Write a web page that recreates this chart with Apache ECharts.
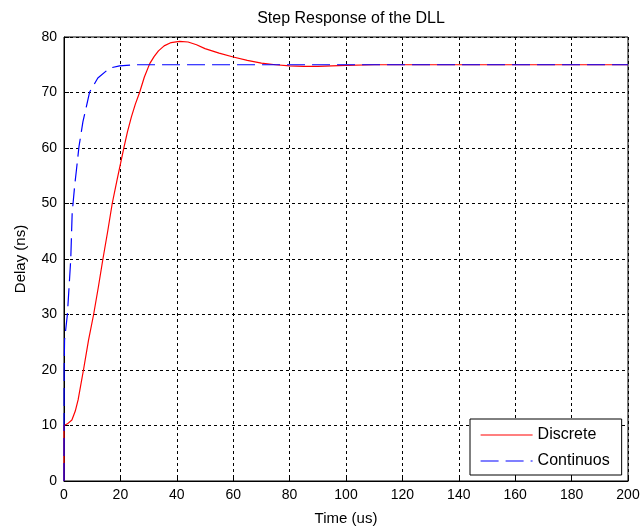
<!DOCTYPE html>
<html>
<head>
<meta charset="utf-8">
<script src="https://cdn.jsdelivr.net/npm/echarts@6/dist/echarts.min.js"></script>
<style>
  html, body { margin: 0; padding: 0; background: #ffffff; }
  #chart { width: 643px; height: 532px; }
</style>
</head>
<body>
<div id="chart"></div>
<script>
// Step response of the DLL: delay (ns) versus time (us)
var xTicks = [0, 20, 40, 60, 80, 100, 120, 140, 160, 180, 200];
var yTicks = [0, 10, 20, 30, 40, 50, 60, 70, 80];

// Discrete loop response [time, delay]
var discrete = [
  [0, 0], [0, 10], [1.2, 10.3], [2.8, 11], [4, 12.6], [5, 14.6], [6.9, 20],
  [8.7, 25.4], [10.5, 30], [12.2, 35], [13.8, 40], [15.5, 45], [17.1, 50],
  [18.8, 54.2], [21.3, 60.2], [22.5, 62.9], [23.9, 65.6], [25.3, 67.9],
  [26.8, 70], [28.5, 72.8], [30.4, 75.2], [32, 76.5],
  [33.5, 77.5], [35.5, 78.4], [38, 79], [41, 79.2], [44, 79.1], [47, 78.6],
  [50, 77.9], [55, 77.1], [60, 76.4], [65, 75.8], [70, 75.3], [75, 75],
  [80, 74.8], [85, 74.7], [90, 74.7], [95, 74.8], [100, 74.9], [110, 75],
  [200, 75]
];

// Continuous loop response [time, delay]
var continuos = [
  [0, 0], [0.05, 20], [0.2, 25.4], [1.2, 30], [1.8, 35], [2.4, 40],
  [2.9, 48.3], [3.8, 53.3], [4.4, 56], [5.3, 60.2], [6.7, 64.7], [9.1, 70.1],
  [12, 72.6], [16.2, 74.4], [19.7, 74.8], [25, 75], [200, 75]
];

var font = 'Liberation Sans, Arial, sans-serif';
var chart = echarts.init(document.getElementById('chart'), null, { renderer: 'canvas' });

chart.setOption({
  animation: false,
  backgroundColor: '#ffffff',
  title: {
    text: 'Step Response of the DLL',
    left: 346, top: 6, textAlign: 'center',
    textStyle: { fontFamily: font, fontSize: 16, fontWeight: 'normal', color: '#000' }
  },
  grid: { left: 64, right: 15, top: 37, bottom: 51, show: true, borderColor: '#000', borderWidth: 1, backgroundColor: 'transparent' },
  legend: {
    orient: 'vertical',
    left: 470, top: 419,
    padding: [8, 12, 6, 10],
    itemGap: 10,
    itemWidth: 52, itemHeight: 14,
    backgroundColor: '#fff', borderColor: '#000', borderWidth: 1,
    itemStyle: { opacity: 0 },
    lineStyle: { width: 1.2 },
    textStyle: { fontFamily: font, fontSize: 16, color: '#000' },
    data: ['Discrete', 'Continuos']
  },
  xAxis: {
    type: 'value', min: 0, max: 200, interval: 20,
    name: 'Time (us)', nameLocation: 'middle', nameGap: 30,
    nameTextStyle: { fontFamily: font, fontSize: 15, color: '#000' },
    axisLine: { onZero: false, lineStyle: { color: '#000', width: 1 } },
    axisTick: { inside: true, length: 5, lineStyle: { color: '#000' } },
    axisLabel: { fontFamily: font, fontSize: 14, color: '#000', margin: 7,
      formatter: function (v) { return xTicks.indexOf(v) >= 0 ? String(v) : ''; } },
    splitLine: { show: true, lineStyle: { color: '#000', type: [3, 3], width: 1 } }
  },
  yAxis: {
    type: 'value', min: 0, max: 80, interval: 10,
    name: 'Delay (ns)', nameLocation: 'middle', nameGap: 36,
    nameTextStyle: { fontFamily: font, fontSize: 15, color: '#000' },
    axisLine: { show: true, lineStyle: { color: '#000', width: 1 } },
    axisTick: { show: true, inside: true, length: 5, lineStyle: { color: '#000' } },
    axisLabel: { fontFamily: font, fontSize: 14, color: '#000', margin: 7,
      formatter: function (v) { return yTicks.indexOf(v) >= 0 ? String(v) : ''; } },
    splitLine: { show: true, lineStyle: { color: '#000', type: [3, 3], width: 1 } }
  },
  series: [
    {
      name: 'Discrete', type: 'line', data: discrete,
      showSymbol: false, symbol: 'none', smooth: false, z: 3,
      itemStyle: { color: '#ff0000' },
      lineStyle: { color: '#ff0000', width: 1.2 }
    },
    {
      name: 'Continuos', type: 'line', data: continuos,
      showSymbol: false, symbol: 'none', smooth: false, z: 4,
      itemStyle: { color: '#0000ff' },
      lineStyle: { color: '#0000ff', width: 1.2, type: [18, 7] }
    }
  ]
});
</script>
</body>
</html>
